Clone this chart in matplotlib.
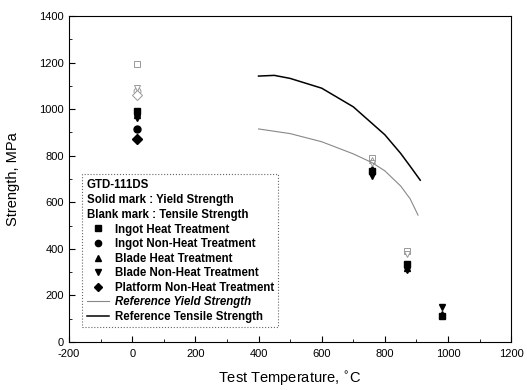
import matplotlib.pyplot as plt
from matplotlib.lines import Line2D

plt.rcParams['font.family'] = ['Liberation Sans', 'DejaVu Sans']
plt.rcParams['axes.unicode_minus'] = False

# solid = yield strength, blank = tensile strength
ingot_ht_yt = [15, 760, 870, 980]
ingot_ht_ys = [990, 735, 335, 110]
ingot_ht_tt = [15, 760, 870]
ingot_ht_ts = [1195, 790, 390]

ingot_nht_yt = [15]
ingot_nht_ys = [915]
ingot_nht_tt = [15]
ingot_nht_ts = [1080]

blade_ht_yt = [15, 760, 870, 980]
blade_ht_ys = [975, 745, 320, 120]
blade_ht_tt = [15, 760]
blade_ht_ts = [1070, 780]

blade_nht_yt = [15, 760, 870, 980]
blade_nht_ys = [960, 715, 310, 150]
blade_nht_tt = [15, 760, 870]
blade_nht_ts = [1090, 770, 380]

plat_nht_yt = [15]
plat_nht_ys = [870]
plat_nht_tt = [15]
plat_nht_ts = [1060]

ref_yield_t = [400, 500, 600, 700, 760, 800, 850, 880, 905]
ref_yield_s = [915, 895, 860, 808, 770, 735, 670, 615, 545]
ref_tens_t = [400, 450, 500, 600, 700, 800, 850, 880, 912]
ref_tens_s = [1142, 1145, 1132, 1090, 1010, 890, 810, 755, 695]

fig = plt.figure(figsize=(5.27, 3.90), dpi=100)
ax = fig.add_axes([0.131, 0.123, 0.839, 0.836])

series = [
    ('Ingot Heat Treatment', 's', ingot_ht_yt, ingot_ht_ys, ingot_ht_tt, ingot_ht_ts),
    ('Ingot Non-Heat Treatment', 'o', ingot_nht_yt, ingot_nht_ys, ingot_nht_tt, ingot_nht_ts),
    ('Blade Heat Treatment', '^', blade_ht_yt, blade_ht_ys, blade_ht_tt, blade_ht_ts),
    ('Blade Non-Heat Treatment', 'v', blade_nht_yt, blade_nht_ys, blade_nht_tt, blade_nht_ts),
    ('Platform Non-Heat Treatment', 'D', plat_nht_yt, plat_nht_ys, plat_nht_tt, plat_nht_ts),
]

handles = []
for name, m, yt, ys, tt, ts in series:
    ax.plot(tt, ts, ls='none', marker=m, ms=5, mfc='white', mec='#999999', mew=0.7)
    ax.plot(yt, ys, ls='none', marker=m, ms=5, color='black')
    handles.append(Line2D([], [], ls='none', marker=m, ms=4.5, color='black', label=name))

ax.plot(ref_yield_t, ref_yield_s, color='#888888', lw=0.8)
ax.plot(ref_tens_t, ref_tens_s, color='black', lw=1.1)
handles.append(Line2D([], [], color='#888888', lw=0.8, label='Reference Yield Strength'))
handles.append(Line2D([], [], color='black', lw=1.1, label='Reference Tensile Strength'))

ax.set_xlim(-200, 1200)
ax.set_ylim(0, 1400)
ax.set_xticks(range(-200, 1201, 200))
ax.set_yticks(range(0, 1401, 200))
ax.set_xticks(range(-200, 1201, 100), minor=True)
ax.set_yticks(range(0, 1401, 100), minor=True)
ax.tick_params(direction='in', labelsize=8, length=4)
ax.tick_params(which='minor', direction='in', length=2)
ax.tick_params(axis='x', pad=5)
ax.set_xlabel('Test Temperature, $^{\\circ}$C', fontsize=10.5, labelpad=8)
ax.set_ylabel('Strength, MPa', fontsize=10.5, labelpad=14)

leg = ax.legend(handles=handles, loc='lower left', bbox_to_anchor=(0.03, 0.045),
                title='GTD-111DS\nSolid mark : Yield Strength\nBlank mark : Tensile Strength',
                fontsize=8.3, title_fontsize=8.3, handlelength=1.9, handletextpad=0.5,
                labelspacing=0.22, borderpad=0.4, fancybox=False, framealpha=1,
                borderaxespad=0)
leg._legend_box.align = 'left'
leg.get_title().set_fontweight('bold')
leg.get_title().set_linespacing(1.35)
for t in leg.get_texts():
    t.set_fontweight('bold')
leg.get_texts()[5].set_style('italic')
frame = leg.get_frame()
frame.set_edgecolor('#666666')
frame.set_linestyle(':')
frame.set_linewidth(0.8)

fig.savefig('out.png', dpi=100)
